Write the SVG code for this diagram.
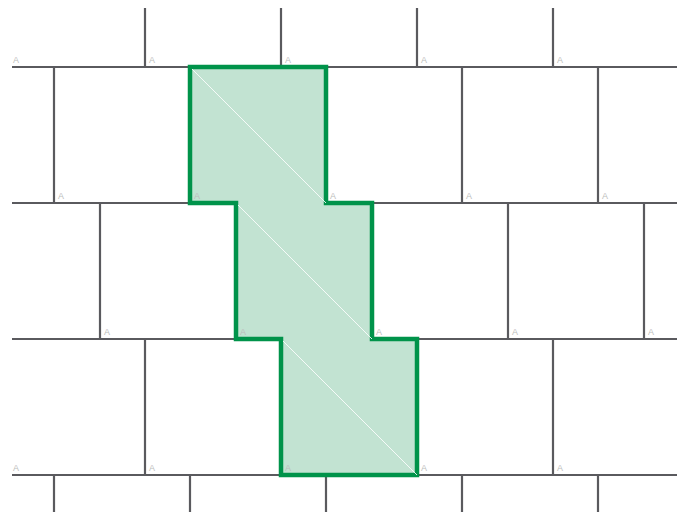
<svg xmlns="http://www.w3.org/2000/svg" width="685" height="512" viewBox="0 0 685 512">
<style>
.g{stroke:#5a5a5e;stroke-width:2.2;fill:none}
.t{font-family:"Liberation Sans",Arial,sans-serif;font-size:9px;fill:#bdbdbd}
.sh{fill:#c2e3d2;stroke:#00934a;stroke-width:4.5;stroke-linejoin:miter}
.d{stroke:#ffffff;stroke-width:1;opacity:0.85}
</style>
<rect width="685" height="512" fill="#fff"/>
<g id="grid">
<path class="g" d="M12 67H677M12 203H677M12 339H677M12 475H677"/>
<path class="g" d="M145 8V67M281 8V67M417 8V67M553 8V67"/>
<path class="g" d="M54 67V203M190 67V203M326 67V203M462 67V203M598 67V203"/>
<path class="g" d="M100 203V339M236 203V339M372 203V339M508 203V339M644 203V339"/>
<path class="g" d="M145 339V475M281 339V475M417 339V475M553 339V475"/>
<path class="g" d="M54 475V512M190 475V512M326 475V512M462 475V512M598 475V512"/>
</g>
<g id="shape">
<path class="sh" d="M190 67H326V203H372V339H417V475H281V339H236V203H190Z"/>
<path class="d" d="M192 69L326 203M238 205L372 339M283 341L417 475"/>
</g>
<g id="labels">
<text class="t" x="13" y="63">A</text><text class="t" x="149" y="63">A</text><text class="t" x="285" y="63">A</text><text class="t" x="421" y="63">A</text><text class="t" x="557" y="63">A</text>
<text class="t" x="58" y="199">A</text><text class="t" x="194" y="199">A</text><text class="t" x="330" y="199">A</text><text class="t" x="466" y="199">A</text><text class="t" x="602" y="199">A</text>
<text class="t" x="104" y="335">A</text><text class="t" x="240" y="335">A</text><text class="t" x="376" y="335">A</text><text class="t" x="512" y="335">A</text><text class="t" x="648" y="335">A</text>
<text class="t" x="13" y="471">A</text><text class="t" x="149" y="471">A</text><text class="t" x="285" y="471">A</text><text class="t" x="421" y="471">A</text><text class="t" x="557" y="471">A</text>
</g>
</svg>
